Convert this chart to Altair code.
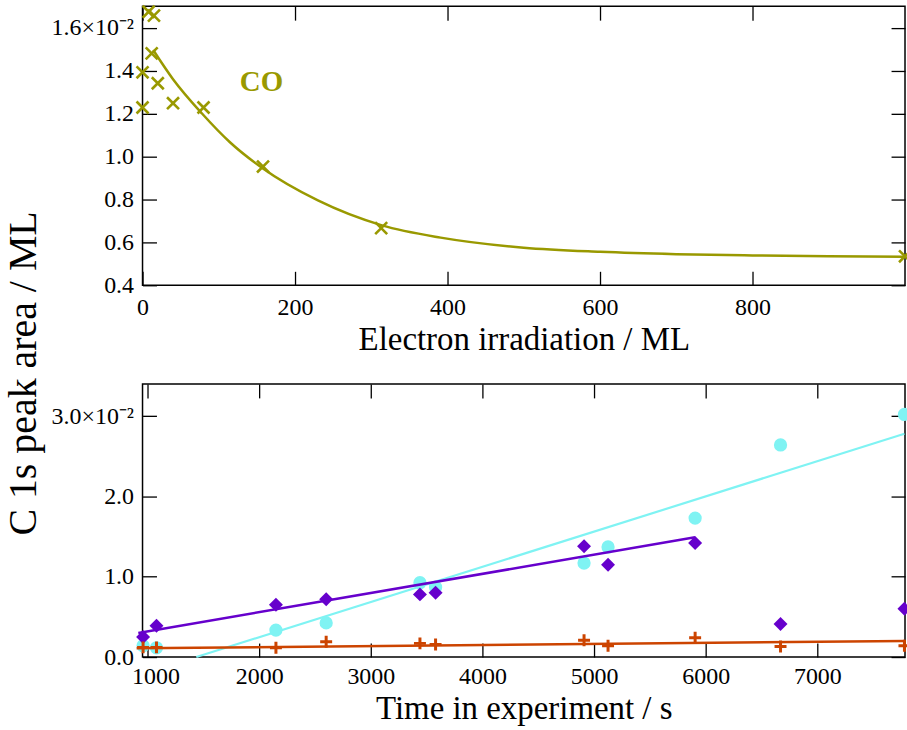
import altair as alt
import pandas as pd

# ---------------- top panel: CO vs electron irradiation ----------------
co_dose = [0, 0, 8, 12, 15, 20, 40, 80, 158, 313, 1000]
co_area = [1.392, 1.228, 1.674, 1.48, 1.656, 1.341, 1.248, 1.228, 0.953, 0.666, 0.535]
co_fit_dose = [14, 40, 78, 115, 157, 230, 314, 391, 500, 600, 700, 800, 900, 1000]
co_fit_area = [1.496, 1.36, 1.20, 1.065, 0.946, 0.795, 0.679, 0.622, 0.575, 0.556, 0.545, 0.539, 0.535, 0.533]
co_label = ["CO"]
co_label_dose = [156]
co_label_area = [1.349]

# ---------------- bottom panel: vs time in experiment ----------------
time_s = [960, 1080, 2150, 2600, 3440, 3580, 4910, 5125, 5905, 6670, 7780]
cyan_area = [0.14, 0.115, 0.335, 0.425, 0.925, 0.87, 1.17, 1.37, 1.73, 2.64, 3.02]
purple_area = [0.25, 0.39, 0.65, 0.72, 0.78, 0.80, 1.38, 1.15, 1.42, 0.41, 0.60]
orange_area = [0.12, 0.12, 0.115, 0.19, 0.17, 0.155, 0.21, 0.14, 0.24, 0.13, 0.14]
cyan_fit_t = [1437, 7780]
cyan_fit_v = [0.0, 2.78]
purple_fit_t = [917, 5904]
purple_fit_v = [0.30, 1.49]
orange_fit_t = [902, 7780]
orange_fit_v = [0.108, 0.20]

# ---------------- ticks ----------------
top_x_ticks = [0, 200, 400, 600, 800]
top_y_ticks = [0.4, 0.6, 0.8, 1.0, 1.2, 1.4, 1.6]
bot_x_ticks = [1000, 2000, 3000, 4000, 5000, 6000, 7000]
bot_y_ticks = [0.0, 1.0, 2.0, 3.0]

FONT = "Liberation Serif"
W, H1, H2 = 765, 280, 274
OLIVE, CYAN, PURPLE, ORANGE = "#999900", "#7ff3f3", "#6600cc", "#cc4400"
XMARK = "M-1,-1L1,1M1,-1L-1,1"
PLUS = "M-1,0L1,0M0,-1L0,1"


def ax(orient, values, labels=True, **kw):
    opts = dict(orient=orient, values=values, offset=-14, tickSize=14, tickWidth=1.3,
                tickColor="black", domain=False, grid=False, labels=labels,
                minExtent=0,
                labelFont=FONT, labelFontSize=24, labelColor="black",
                labelFlush=False, labelOverlap=False,
                titleFont=FONT, titleFontSize=33, titleFontWeight="normal",
                titleColor="black")
    opts.update(kw)
    return alt.Axis(**opts)


xs1 = alt.Scale(domain=[0, 1000], nice=False, zero=False)
ys1 = alt.Scale(domain=[0.4, 1.7], nice=False, zero=False)
xs2 = alt.Scale(domain=[955, 7785], nice=False, zero=False)
ys2 = alt.Scale(domain=[0.0, 3.4], nice=False, zero=False)

df_co = pd.DataFrame({"dose": co_dose, "area": co_area})
df_cofit = pd.DataFrame({"dose": co_fit_dose, "area": co_fit_area})
df_colab = pd.DataFrame({"dose": co_label_dose, "area": co_label_area, "txt": co_label})

top_fit = alt.Chart(df_cofit).mark_line(color=OLIVE, strokeWidth=2.5, interpolate="monotone").encode(
    x=alt.X("dose:Q", scale=xs1, axis=ax("bottom", top_x_ticks, labelPadding=10, format="d",
                                        title="Electron irradiation / ML", titleY=78,
                                        titleBaseline="alphabetic")),
    y=alt.Y("area:Q", scale=ys1, axis=ax("left", top_y_ticks, labelPadding=9,
                                        labelExpr="abs(datum.value - 1.6) < 1e-9 ? '1.6×10⁻²' : format(datum.value, '.1f')",
                                        title="C 1s peak area / ML", titleX=-133, titleY=368,
                                        titleFontSize=40,
                                        titleAngle=270, titleAlign="center", titleBaseline="middle")),
)
top_pts = alt.Chart(df_co).mark_point(shape=XMARK, filled=False, size=144, strokeWidth=2.6,
                                      color=OLIVE, opacity=1).encode(
    x=alt.X("dose:Q", scale=xs1, axis=ax("top", top_x_ticks, labels=False, title=None)),
    y=alt.Y("area:Q", scale=ys1, axis=ax("right", top_y_ticks, labels=False, title=None)),
)
top_txt = alt.Chart(df_colab).mark_text(font=FONT, fontSize=29, fontWeight="bold", color=OLIVE).encode(
    x=alt.X("dose:Q", scale=xs1, axis=None),
    y=alt.Y("area:Q", scale=ys1, axis=None),
    text="txt:N",
)
top = alt.layer(top_fit, top_pts, top_txt).resolve_axis(x="independent", y="independent").properties(
    width=W, height=H1)

df_c = pd.DataFrame({"t": time_s, "v": cyan_area})
df_p = pd.DataFrame({"t": time_s, "v": purple_area})
df_o = pd.DataFrame({"t": time_s, "v": orange_area})
df_cf = pd.DataFrame({"t": cyan_fit_t, "v": cyan_fit_v})
df_pf = pd.DataFrame({"t": purple_fit_t, "v": purple_fit_v})
df_of = pd.DataFrame({"t": orange_fit_t, "v": orange_fit_v})

bot_label = "datum.value == 3 ? '3.0×10⁻²' : format(datum.value, '.1f')"
c_line = alt.Chart(df_cf).mark_line(color=CYAN, strokeWidth=2.2).encode(
    x=alt.X("t:Q", scale=xs2, axis=ax("bottom", bot_x_ticks, labelPadding=8, format="d",
                                     labelOffset={"condition": {"test": "datum.value == 1000", "value": 8}, "value": 0},
                                     title="Time in experiment / s", titleY=76,
                                     titleBaseline="alphabetic")),
    y=alt.Y("v:Q", scale=ys2, axis=ax("left", bot_y_ticks, labelPadding=9, labelExpr=bot_label, title=None)),
)
c_pts = alt.Chart(df_c).mark_circle(color=CYAN, size=177, opacity=1).encode(
    x=alt.X("t:Q", scale=xs2, axis=ax("top", bot_x_ticks, labels=False, title=None)),
    y=alt.Y("v:Q", scale=ys2, axis=ax("right", bot_y_ticks, labels=False, title=None)),
)
p_line = alt.Chart(df_pf).mark_line(color=PURPLE, strokeWidth=2.5).encode(
    x=alt.X("t:Q", scale=xs2, axis=None), y=alt.Y("v:Q", scale=ys2, axis=None))
p_pts = alt.Chart(df_p).mark_point(shape="diamond", filled=True, size=196, color=PURPLE, opacity=1).encode(
    x=alt.X("t:Q", scale=xs2, axis=None), y=alt.Y("v:Q", scale=ys2, axis=None))
o_line = alt.Chart(df_of).mark_line(color=ORANGE, strokeWidth=2.5).encode(
    x=alt.X("t:Q", scale=xs2, axis=None), y=alt.Y("v:Q", scale=ys2, axis=None))
o_pts = alt.Chart(df_o).mark_point(shape=PLUS, filled=False, size=144, strokeWidth=3,
                                   color=ORANGE, opacity=1).encode(
    x=alt.X("t:Q", scale=xs2, axis=None), y=alt.Y("v:Q", scale=ys2, axis=None))

bottom = alt.layer(c_line, c_pts, p_line, p_pts, o_line, o_pts).resolve_axis(
    x="independent", y="independent").properties(width=W, height=H2)

chart = alt.vconcat(top, bottom, spacing=99, bounds="flush").properties(
    padding={"left": 3, "top": -2, "right": -11, "bottom": 0}
).configure(background="white").configure_view(stroke="black", strokeWidth=1.5)

chart.save("out.html", embed_options={"renderer": "svg", "actions": False})
